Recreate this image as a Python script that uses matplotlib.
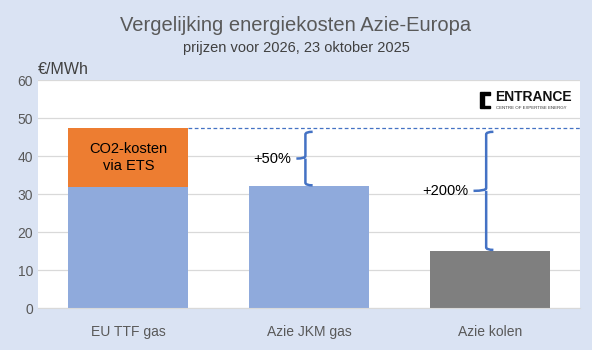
import matplotlib
matplotlib.use("Agg")
import matplotlib.pyplot as plt
from matplotlib.path import Path
from matplotlib.patches import PathPatch, Rectangle

# data
categories = ["EU TTF gas", "Azie JKM gas", "Azie kolen"]
base_cost = [31.8, 32.1, 15.1]
co2_cost = [15.7, 0.0, 0.0]
base_colors = ["#8FAADC", "#8FAADC", "#7F7F7F"]
reference_level = 47.4
brace_labels = ["+50%", "+200%"]
brace_bars = [1, 2]

plt.rcParams["font.family"] = ["Liberation Sans", "DejaVu Sans"]
bg = "#DAE3F3"

fig = plt.figure(figsize=(5.92, 3.5), dpi=100, facecolor=bg)
ax = fig.add_axes([0.064, 0.12, 0.916, 0.651])
ax.set_facecolor("white")

x = list(range(len(categories)))
ax.bar(x, base_cost, width=0.665, color=base_colors, zorder=2)
ax.bar(x, co2_cost, width=0.665, bottom=base_cost, color="#ED7D31", zorder=2)
ax.text(0, base_cost[0] + co2_cost[0] / 2, "CO2-kosten\nvia ETS", ha="center",
        va="center", fontsize=10.5, color="black", linespacing=1.35, zorder=3)

# dashed reference line from top of the EU bar
ax.plot([0.333, 2.5], [reference_level, reference_level], ls=(0, (3, 2)),
        color="#4472C4", lw=0.9, zorder=3)


def brace(ax, xv, y0, y1, w=0.04, tip=0.06):
    ym = (y0 + y1) / 2
    h = 0.7
    verts = [(xv + w, y1), (xv, y1), (xv, y1 - h),
             (xv, ym + h),
             (xv, ym), (xv - tip, ym),
             (xv, ym), (xv, ym - h),
             (xv, y0 + h),
             (xv, y0), (xv + w, y0)]
    codes = [Path.MOVETO, Path.CURVE3, Path.CURVE3,
             Path.LINETO,
             Path.CURVE3, Path.CURVE3,
             Path.MOVETO, Path.CURVE3,
             Path.LINETO,
             Path.CURVE3, Path.CURVE3]
    ax.add_patch(PathPatch(Path(verts, codes), fill=False, ec="#4472C4",
                           lw=1.8, zorder=4))
    return ym


for lab, bi in zip(brace_labels, brace_bars):
    xv = bi - 0.02
    tip = 0.05 if bi == 1 else 0.07
    ym = brace(ax, xv, base_cost[bi] + 0.2, reference_level - 1.0, tip=tip)
    ax.text(xv - tip - 0.03, ym, lab, ha="right", va="center", fontsize=10.5,
            color="black", zorder=4)

ax.set_xlim(-0.5, 2.5)
ax.set_ylim(0, 60)
ax.set_yticks(range(0, 61, 10))
ax.set_xticks(x)
ax.set_xticklabels(categories)
ax.tick_params(axis="both", length=0, colors="#595959", labelsize=10)
ax.tick_params(axis="x", pad=12)
ax.grid(axis="y", color="#D9D9D9", lw=0.9, zorder=0)
for s in ["top", "right", "left"]:
    ax.spines[s].set_visible(False)
ax.spines["bottom"].set_color("#D9D9D9")

fig.text(0.5, 0.928, "Vergelijking energiekosten Azie-Europa", ha="center",
         va="center", fontsize=14.5, color="#595959")
fig.text(0.5, 0.862, "prijzen voor 2026, 23 oktober 2025", ha="center",
         va="center", fontsize=10.5, color="#404040")
fig.text(0.064, 0.80, "€/MWh", ha="left", va="center", fontsize=11.5,
         color="#404040")

# logo
ax.add_patch(Rectangle((0.815, 0.878), 0.007, 0.068, transform=ax.transAxes,
                       color="black", zorder=5))
ax.add_patch(Rectangle((0.822, 0.878), 0.012, 0.010, transform=ax.transAxes,
                       color="black", zorder=5))
ax.add_patch(Rectangle((0.822, 0.936), 0.012, 0.010, transform=ax.transAxes,
                       color="black", zorder=5))
ax.text(0.844, 0.925, "ENTRANCE", transform=ax.transAxes, ha="left",
        va="center", fontsize=10, fontweight="bold", color="#111111", zorder=5)
ax.text(0.845, 0.878, "CENTRE OF EXPERTISE ENERGY", transform=ax.transAxes,
        ha="left", va="center", fontsize=3.2, color="#333333", zorder=5)

fig.savefig("out.png", dpi=100, facecolor=bg)
